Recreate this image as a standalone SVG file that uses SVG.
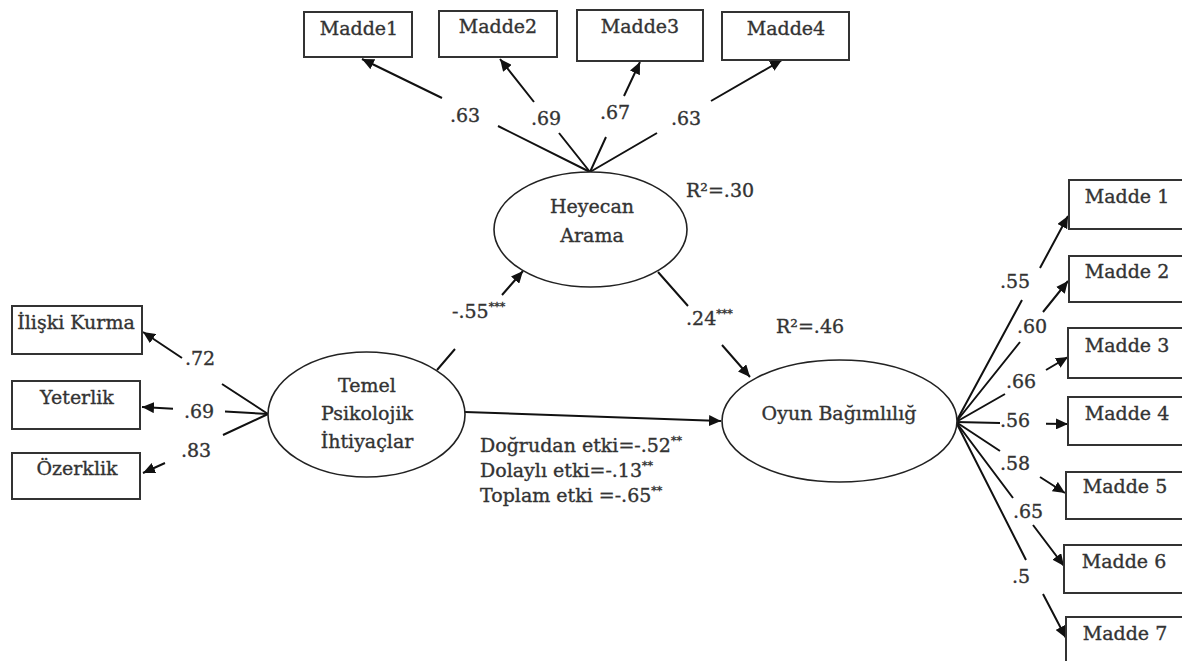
<svg xmlns="http://www.w3.org/2000/svg" width="1182" height="661" viewBox="0 0 1182 661">
<defs>
<style>
.box{fill:#fff;stroke:#333;stroke-width:2}
.ell{fill:#fff;stroke:#222;stroke-width:1.6}
.t{font-family:"DejaVu Serif","Liberation Serif",serif;font-size:19px;fill:#333;stroke:#333;stroke-width:0.35}
.c{text-anchor:middle}
.edge{fill:none;stroke:#111;stroke-width:2}
.sup{font-size:11px}
</style>
<marker id="ah" markerUnits="userSpaceOnUse" markerWidth="13" markerHeight="11" refX="12" refY="5.5" orient="auto">
<path d="M0,0 L12,5.5 L0,11 z" fill="#111"/>
</marker>
</defs>
<rect width="1182" height="661" fill="#fff"/>

<g id="connectors">
<path class="edge" marker-end="url(#ah)" d="M590,172 L498,126 M442,98 L362,59"/>
<path class="edge" marker-end="url(#ah)" d="M590,172 L559,133 M534,102 L500,59"/>
<path class="edge" marker-end="url(#ah)" d="M590,172 L606,137 M624,96 L640,62"/>
<path class="edge" marker-end="url(#ah)" d="M590,172 L657,133 M711,101 L782,60"/>
<path class="edge" marker-end="url(#ah)" d="M268,414 L222,384 M182,358 L143,332"/>
<path class="edge" marker-end="url(#ah)" d="M268,414 L225,411.6 M173,408.7 L142,407"/>
<path class="edge" marker-end="url(#ah)" d="M268,414 L223,435 M165,463 L143,473"/>
<path class="edge" marker-end="url(#ah)" d="M437,370 L455,349 M502,295 L523,271"/>
<path class="edge" marker-end="url(#ah)" d="M658,272 L688,306 M722,345 L750,377"/>
<path class="edge" marker-end="url(#ah)" d="M465,412 L721,421"/>
<path class="edge" marker-end="url(#ah)" d="M956,422 L1022,300 M1040,268 L1068,216"/>
<path class="edge" marker-end="url(#ah)" d="M956,422 L1020,342 M1043,312 L1068,281"/>
<path class="edge" marker-end="url(#ah)" d="M956,422 L1005,394 M1046,370 L1068,357"/>
<path class="edge" marker-end="url(#ah)" d="M956,422 L1000,423 M1046,423.8 L1068,424"/>
<path class="edge" marker-end="url(#ah)" d="M956,422 L1000,451 M1040,477 L1065,493"/>
<path class="edge" marker-end="url(#ah)" d="M956,422 L1013,498 M1033,525 L1064,566"/>
<path class="edge" marker-end="url(#ah)" d="M956,422 L1026,560 M1043,594 L1066,638"/>
</g>

<g id="labels" class="t">
<text class="c" x="465" y="122">.63</text>
<text class="c" x="546" y="125">.69</text>
<text class="c" x="615" y="119">.67</text>
<text class="c" x="686" y="125">.63</text>
<text x="686" y="197">R²=.30</text>
<text x="776" y="333">R²=.46</text>
<text class="c" x="200" y="365">.72</text>
<text class="c" x="199" y="418">.69</text>
<text class="c" x="196" y="457">.83</text>
<text x="452" y="318">-.55<tspan class="sup" dy="-8">***</tspan></text>
<text x="686" y="325">.24<tspan class="sup" dy="-8">***</tspan></text>
<text x="480" y="452">Doğrudan etki=-.52<tspan class="sup" dy="-8">**</tspan></text>
<text x="480" y="477">Dolaylı etki=-.13<tspan class="sup" dy="-8">**</tspan></text>
<text x="480" y="502">Toplam etki =-.65<tspan class="sup" dy="-8">**</tspan></text>
<text class="c" x="1015" y="288">.55</text>
<text class="c" x="1032" y="333">.60</text>
<text class="c" x="1021" y="388">.66</text>
<text class="c" x="1015" y="427">.56</text>
<text class="c" x="1015" y="470">.58</text>
<text class="c" x="1028" y="518">.65</text>
<text class="c" x="1021" y="583">.5</text>
</g>

<g id="heyecan">
<ellipse class="ell" cx="590.5" cy="229.5" rx="96.5" ry="57.5"/>
<text class="t c" x="592" y="213">Heyecan</text>
<text class="t c" x="592" y="242">Arama</text>
</g>
<g id="temel">
<ellipse class="ell" cx="366.5" cy="414.5" rx="98.5" ry="62.5"/>
<text class="t c" x="367" y="392">Temel</text>
<text class="t c" x="367" y="420">Psikolojik</text>
<text class="t c" x="367" y="448">İhtiyaçlar</text>
</g>
<g id="oyun">
<ellipse class="ell" cx="839.5" cy="421" rx="117.5" ry="61"/>
<text class="t c" x="839" y="420">Oyun Bağımlılığ</text>
</g>

<g id="h_madde1"><rect class="box" x="304" y="12" width="108" height="45"/><text class="t c" x="359" y="35">Madde1</text></g>
<g id="h_madde2"><rect class="box" x="439" y="11" width="118" height="46"/><text class="t c" x="498" y="33">Madde2</text></g>
<g id="h_madde3"><rect class="box" x="577" y="10" width="126" height="51"/><text class="t c" x="640" y="33">Madde3</text></g>
<g id="h_madde4"><rect class="box" x="722" y="12" width="127" height="48"/><text class="t c" x="786" y="35">Madde4</text></g>

<g id="iliski"><rect class="box" x="12" y="306" width="130" height="48"/><text class="t c" x="76" y="329">İlişki Kurma</text></g>
<g id="yeterlik"><rect class="box" x="12" y="381" width="128" height="48"/><text class="t c" x="77" y="404">Yeterlik</text></g>
<g id="ozerklik"><rect class="box" x="12" y="453" width="128" height="46"/><text class="t c" x="77" y="475">Özerklik</text></g>

<g id="o_madde1"><rect class="box" x="1069" y="180" width="130" height="49"/><text class="t c" x="1127" y="203">Madde 1</text></g>
<g id="o_madde2"><rect class="box" x="1069" y="256" width="130" height="46"/><text class="t c" x="1127" y="278">Madde 2</text></g>
<g id="o_madde3"><rect class="box" x="1068" y="328" width="130" height="50"/><text class="t c" x="1127" y="352">Madde 3</text></g>
<g id="o_madde4"><rect class="box" x="1068" y="397" width="130" height="48"/><text class="t c" x="1127" y="420">Madde 4</text></g>
<g id="o_madde5"><rect class="box" x="1066" y="472" width="130" height="47"/><text class="t c" x="1125" y="493">Madde 5</text></g>
<g id="o_madde6"><rect class="box" x="1064" y="545" width="130" height="48"/><text class="t c" x="1124" y="568">Madde 6</text></g>
<g id="o_madde7"><rect class="box" x="1066" y="617" width="130" height="60"/><text class="t c" x="1125" y="640">Madde 7</text></g>
</svg>
